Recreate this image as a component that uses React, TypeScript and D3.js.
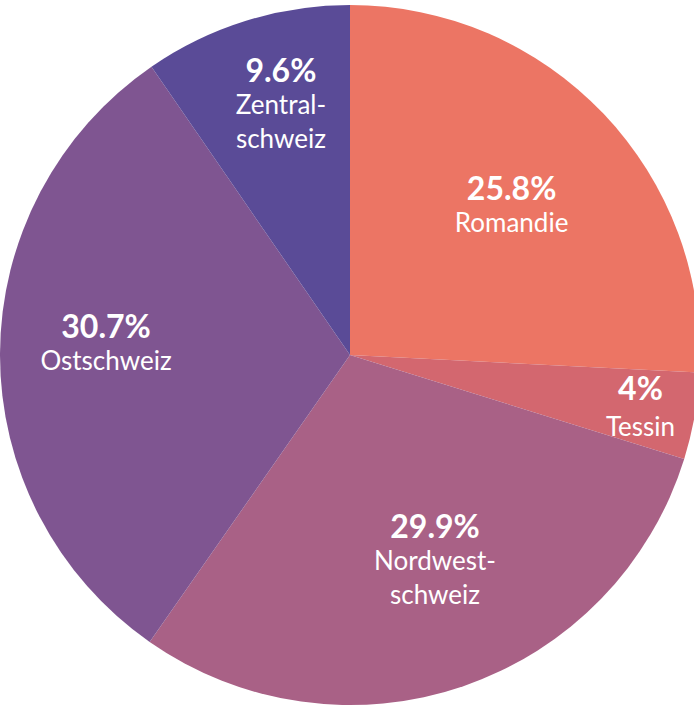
import { useEffect, useRef } from 'react';
import * as d3 from 'd3';

const regions = ['Romandie', 'Tessin', 'Nordwestschweiz', 'Ostschweiz', 'Zentralschweiz'];
const shares = [25.8, 4, 29.9, 30.7, 9.6];
const percentLabels = ['25.8%', '4%', '29.9%', '30.7%', '9.6%'];
const nameLines = [['Romandie'], ['Tessin'], ['Nordwest-', 'schweiz'], ['Ostschweiz'], ['Zentral-', 'schweiz']];
const sliceColors = ['#ec7564', '#d3676f', '#a96186', '#7f5591', '#5a4b97'];

// label placement (radius from centre, angle nudge in degrees) per slice
const labelRadius = [216, 296, 228, 244, 254];
const labelNudge = [2, 1, -3, 1, 1.5];

const W = 694;
const H = 707;

const App = () => {
  const svgRef = useRef<SVGSVGElement>(null);

  useEffect(() => {
    const cx = 350;
    const cy = 355;
    const radius = 350;

    const svg = d3.select(svgRef.current);
    svg.selectAll('*').remove();

    const g = svg.append('g').attr('transform', `translate(${cx},${cy})`);

    const data = regions.map((name, i) => ({ name, value: shares[i], i }));
    const pie = d3.pie<any>().value(d => d.value).sort(null);
    const arc = d3.arc<any>().innerRadius(0).outerRadius(radius);
    const arcs = pie(data);

    g.selectAll('path')
      .data(arcs)
      .enter()
      .append('path')
      .attr('fill', d => sliceColors[d.data.i])
      .attr('d', arc);

    const lineGap = 34;
    arcs.forEach(a => {
      const i = a.data.i;
      const mid = (a.startAngle + a.endAngle) / 2 + (labelNudge[i] * Math.PI) / 180;
      const r = labelRadius[i];
      const x = Math.sin(mid) * r;
      const y = -Math.cos(mid) * r - 6;
      const lines = [percentLabels[i], ...nameLines[i]];
      const top = y - ((lines.length - 1) * lineGap) / 2;

      const t = g.append('text')
        .attr('text-anchor', 'middle')
        .attr('fill', '#ffffff')
        .attr('font-family', 'Lato, "Open Sans", sans-serif');

      lines.forEach((line, k) => {
        t.append('tspan')
          .attr('x', x)
          .attr('y', top + k * lineGap + (i === 1 && k > 0 ? 4 : 0))
          .attr('dy', '0.35em')
          .attr('font-size', k === 0 ? '32px' : '26px')
          .attr('font-weight', k === 0 ? '700' : '400')
          .text(line);
      });
    });
  }, []);

  return (
    <svg
      ref={svgRef}
      width={W}
      height={H}
      style={{ position: 'absolute', left: 0, top: 0, background: '#ffffff' }}
    />
  );
};

export default App;
